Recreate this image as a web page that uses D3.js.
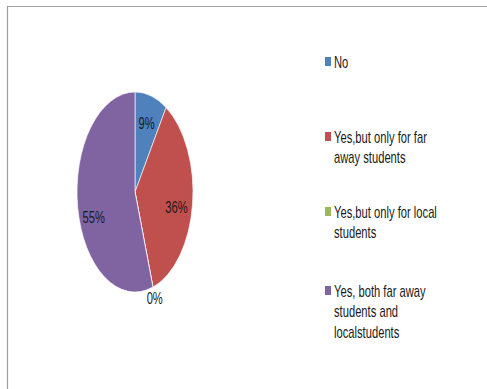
<!DOCTYPE html>
<html>
<head>
<meta charset="utf-8">
<script src="https://cdn.jsdelivr.net/npm/d3@7"></script>
<style>
  html, body { margin: 0; padding: 0; background: #fff; }
  svg { display: block; }
  text { font-family: "Liberation Sans", Arial, sans-serif; fill: #1a1a1a; }
</style>
</head>
<body>
<svg id="chart" width="487" height="389"></svg>
<script>
// Answers to the survey question, in percent
const categories = [
  "No",
  "Yes,but only for far away students",
  "Yes,but only for local students",
  "Yes, both far away students and localstudents"
];
const values = [9, 36, 0, 55];
const valueLabels = ["9%", "36%", "0%", "55%"];
const legendLines = [
  ["No"],
  ["Yes,but only for far", "away students"],
  ["Yes,but only for local", "students"],
  ["Yes, both far away", "students and", "localstudents"]
];
const colors = ["#4F81BD", "#C0504D", "#9BBB59", "#8064A2"];

const svg = d3.select("#chart");

// frame of the chart area
svg.append("line").attr("x1", 7).attr("y1", 6.5).attr("x2", 487).attr("y2", 6.5)
  .attr("stroke", "#a0a0a0").attr("stroke-width", 1.2);
svg.append("line").attr("x1", 7.5).attr("y1", 6).attr("x2", 7.5).attr("y2", 389)
  .attr("stroke", "#a0a0a0").attr("stroke-width", 1.2);

// pie, drawn as a circle and stretched into an ellipse
const cx = 135, cy = 192, R = 100, sx = 0.58, textSx = 0.7;
const pie = d3.pie().sort(null).value(d => d)(values);
const arc = d3.arc().innerRadius(0).outerRadius(R);
const color = d3.scaleOrdinal().domain(d3.range(categories.length)).range(colors);

const pieG = svg.append("g").attr("transform", `translate(${cx},${cy}) scale(${sx},1)`);
pieG.selectAll("path").data(pie).join("path")
  .attr("d", arc)
  .attr("fill", (d, i) => color(i))
  .attr("stroke", "#fff")
  .attr("stroke-width", 0.8);

// value labels: inside the slice, or just outside it for an empty slice
const inner = d3.arc().innerRadius(R * 0.72).outerRadius(R * 0.72);
const outer = d3.arc().innerRadius(R * 1.1).outerRadius(R * 1.1);
const labelShift = [0, 6, 2, 14];
svg.append("g").selectAll("text").data(pie).join("text")
  .attr("transform", (d, i) => {
    const [x, y] = (d.value === 0 ? outer : inner).centroid(d);
    return `translate(${cx + x * sx},${cy + y + labelShift[i]}) scale(${textSx},1)`;
  })
  .attr("text-anchor", "middle")
  .attr("dominant-baseline", "central")
  .attr("font-size", 16)
  .text((d, i) => valueLabels[i]);

// legend
const legendY = [62, 137, 212, 291];
const lineH = 20.5;
const leg = svg.append("g");
legendLines.forEach((lines, i) => {
  leg.append("rect")
    .attr("x", 325).attr("y", legendY[i] - 5)
    .attr("width", 6).attr("height", 9)
    .attr("fill", color(i));
  lines.forEach((t, j) => {
    leg.append("text")
      .attr("transform", `translate(334,${legendY[i] + j * lineH}) scale(${textSx},1)`)
      .attr("dominant-baseline", "central")
      .attr("font-size", 16)
      .text(t);
  });
});
</script>
</body>
</html>
